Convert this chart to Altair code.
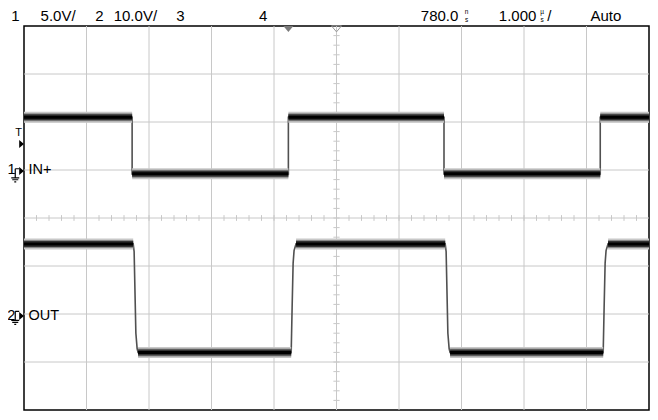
import altair as alt
import pandas as pd

# ---- scope setup (1 us/div, 780 ns delay, 8 vertical divisions) ----
T_LEFT, T_RIGHT = -4.22, 5.78          # microseconds
CH1_GND, CH1_VDIV = 1.0, 5.0           # IN+  : ground 1 div above centre, 5 V/div
CH2_GND, CH2_VDIV = -2.0, 10.0         # OUT  : ground 2 div below centre, 10 V/div

# ---- waveforms (time in us, volts) ----
in_t = [-4.22, -2.49, -2.49, 0.01, 0.01, 2.50, 2.50, 5.00, 5.00, 5.78]
in_v = [5.5, 5.5, -0.4, -0.4, 5.5, 5.5, -0.4, -0.4, 5.5, 5.5]

out_t = [-4.22, -2.473, -2.458, -2.43, -2.41, -2.395, 0.055, 0.07, 0.086, 0.101, 0.133,
         2.519, 2.534, 2.562, 2.582, 2.597, 5.047, 5.062, 5.078, 5.093, 5.125, 5.78]
out_v = [14.6, 14.6, 13.0, -4.0, -7.2, -8.0, -8.0, 1.4, 10.6, 13.2, 14.6,
         14.6, 13.0, -4.0, -7.2, -8.0, -8.0, 1.4, 10.6, 13.2, 14.6, 14.6]

# flat (persistence band) segments: start, end, volts
in_seg_start = [-4.22, -2.49, 0.01, 2.50, 5.00]
in_seg_end = [-2.49, 0.01, 2.50, 5.00, 5.78]
in_seg_v = [5.5, -0.4, 5.5, -0.4, 5.5]

out_seg_start = [-4.22, -2.395, 0.133, 2.597, 5.125]
out_seg_end = [-2.473, 0.055, 2.519, 5.047, 5.78]
out_seg_v = [14.6, -8.0, 14.6, -8.0, 14.6]

# ---- graticule ----
grid_x = [-3.22, -2.22, -1.22, -0.22, 0.78, 1.78, 2.78, 3.78, 4.78]
grid_y = [-3, -2, -1, 0, 1, 2, 3]
CENTER_T = 0.78
minor_x = [round(T_LEFT + 0.2 * k, 3) for k in range(1, 50)]
minor_y = [round(-4 + 0.2 * k, 3) for k in range(1, 40)]

# ---- status line texts ----
top_labels = ["1", "5.0V/", "2", "10.0V/", "3", "4", "780.0", "1.000", "/", "Auto"]
top_t = [-4.423, -3.955, -3.081, -2.785, -1.786, -0.460, 2.129, 3.377, 4.15, 4.844]
unit_labels = ["n", "s", "\u00b5", "s"]
unit_t = [2.86, 2.86, 4.07, 4.07]
unit_d = [4.30, 4.13, 4.30, 4.13]

ch_labels = ["IN+", "OUT"]
ch_num = ["1", "2"]
ch_label_d = [1.0, -2.04]

FONT = "Liberation Sans"


def to_div(v, gnd, vdiv):
    return gnd + v / vdiv


wave_rows = []
for t, v in zip(in_t, in_v):
    wave_rows.append({"t": t, "d": to_div(v, CH1_GND, CH1_VDIV), "ch": "IN+"})
for t, v in zip(out_t, out_v):
    wave_rows.append({"t": t, "d": to_div(v, CH2_GND, CH2_VDIV), "ch": "OUT"})
wave_df = pd.DataFrame(wave_rows)

seg_rows = []
for i, (a, b, v) in enumerate(zip(in_seg_start, in_seg_end, in_seg_v)):
    d = to_div(v, CH1_GND, CH1_VDIV)
    seg_rows += [{"t": a, "d": d, "seg": f"a{i}"}, {"t": b, "d": d, "seg": f"a{i}"}]
for i, (a, b, v) in enumerate(zip(out_seg_start, out_seg_end, out_seg_v)):
    d = to_div(v, CH2_GND, CH2_VDIV)
    seg_rows += [{"t": a, "d": d, "seg": f"b{i}"}, {"t": b, "d": d, "seg": f"b{i}"}]
seg_df = pd.DataFrame(seg_rows)

xs = alt.Scale(domain=[T_LEFT, T_RIGHT], nice=False, zero=False)
ys = alt.Scale(domain=[-4, 4], nice=False, zero=False)
X = alt.X("t:Q", scale=xs, axis=None)
Y = alt.Y("d:Q", scale=ys, axis=None)

GRID = "#c8c8c8"

gx = alt.Chart(pd.DataFrame({"t": grid_x})).mark_rule(color=GRID, strokeWidth=1).encode(x=X)
gy = alt.Chart(pd.DataFrame({"d": grid_y})).mark_rule(color=GRID, strokeWidth=1).encode(y=Y)

mx = alt.Chart(pd.DataFrame({"t": minor_x, "d": [-0.06] * len(minor_x), "d2": [0.06] * len(minor_x)})
               ).mark_rule(color=GRID, strokeWidth=1).encode(x=X, y=Y, y2="d2:Q")
my = alt.Chart(pd.DataFrame({"d": minor_y, "t": [CENTER_T - 0.05] * len(minor_y),
                             "t2": [CENTER_T + 0.05] * len(minor_y)})
               ).mark_rule(color=GRID, strokeWidth=1).encode(y=Y, x=X, x2="t2:Q")

edges = alt.Chart(wave_df).mark_line(color="#505050", strokeWidth=1.6).encode(
    x=X, y=Y, detail="ch:N", order="t:Q")

bands = []
for w, c in [(11, "#c8c8c8"), (8, "#8a8a8a"), (6, "#333333"), (3, "#000000")]:
    bands.append(alt.Chart(seg_df).mark_line(color=c, strokeWidth=w, strokeCap="butt").encode(
        x=X, y=Y, detail="seg:N"))

TRI_DOWN = "M-1,-0.6L1,-0.6L0,0.6Z"
TRI_RIGHT = "M-0.6,-1L0.6,0L-0.6,1Z"
GROUND = "M0,-1L0,0.29M0,-1L0.57,-1M-0.57,0.29L0.57,0.29M-0.43,0.57L0.43,0.57M-0.14,0.86L0.14,0.86"

trig_pos = alt.Chart(pd.DataFrame({"t": [0.01], "d": [3.94]})).mark_point(
    shape=TRI_DOWN, size=100, filled=True, color="#7a7a7a", opacity=1).encode(x=X, y=Y)
delay_pos = alt.Chart(pd.DataFrame({"t": [CENTER_T], "d": [3.94]})).mark_point(
    shape=TRI_DOWN, size=100, filled=False, color="#9a9a9a", strokeWidth=1, opacity=1).encode(x=X, y=Y)
arrows = alt.Chart(pd.DataFrame({"t": [-4.259] * 3, "d": [1.54, 0.98, -2.04]})).mark_point(
    shape=TRI_RIGHT, size=64, filled=True, color="black", opacity=1).encode(x=X, y=Y)
grounds = alt.Chart(pd.DataFrame({"t": [-4.36, -4.36], "d": [0.88, -2.09]})).mark_point(
    shape=GROUND, size=196, filled=False, color="black", strokeWidth=1.2, opacity=1).encode(x=X, y=Y)

top_text = alt.Chart(pd.DataFrame({"t": top_t, "d": [4.214] * len(top_t), "label": top_labels})
                     ).mark_text(align="left", baseline="middle", font=FONT, fontSize=15,
                                 color="black").encode(x=X, y=Y, text="label:N")
unit_text = alt.Chart(pd.DataFrame({"t": unit_t, "d": unit_d, "label": unit_labels})
                      ).mark_text(align="center", baseline="middle", font=FONT, fontSize=6.5,
                                  color="black").encode(x=X, y=Y, text="label:N")
ch_text = alt.Chart(pd.DataFrame({"t": [-4.147, -4.147], "d": ch_label_d, "label": ch_labels})
                    ).mark_text(align="left", baseline="middle", font=FONT, fontSize=14.5,
                                color="black").encode(x=X, y=Y, text="label:N")
num_text = alt.Chart(pd.DataFrame({"t": [-4.42, -4.425], "d": ch_label_d, "label": ch_num})
                     ).mark_text(align="center", baseline="middle", font=FONT, fontSize=14.5,
                                 color="black").encode(x=X, y=Y, text="label:N")
t_text = alt.Chart(pd.DataFrame({"t": [-4.306], "d": [1.77], "label": ["T"]})
                   ).mark_text(align="center", baseline="middle", font=FONT, fontSize=11,
                               color="black").encode(x=X, y=Y, text="label:N")

chart = alt.layer(
    gx, gy, mx, my, edges, *bands, trig_pos, delay_pos, arrows, grounds,
    top_text, unit_text, ch_text, num_text, t_text
).properties(
    width=625, height=384,
    padding={"left": 16, "top": 18, "right": 1, "bottom": 2},
    autosize=alt.AutoSizeParams(type="none"),
    background="white",
).configure_view(stroke="black", strokeWidth=1.5)

chart.save("out.html", embed_options={"renderer": "svg", "actions": False})
